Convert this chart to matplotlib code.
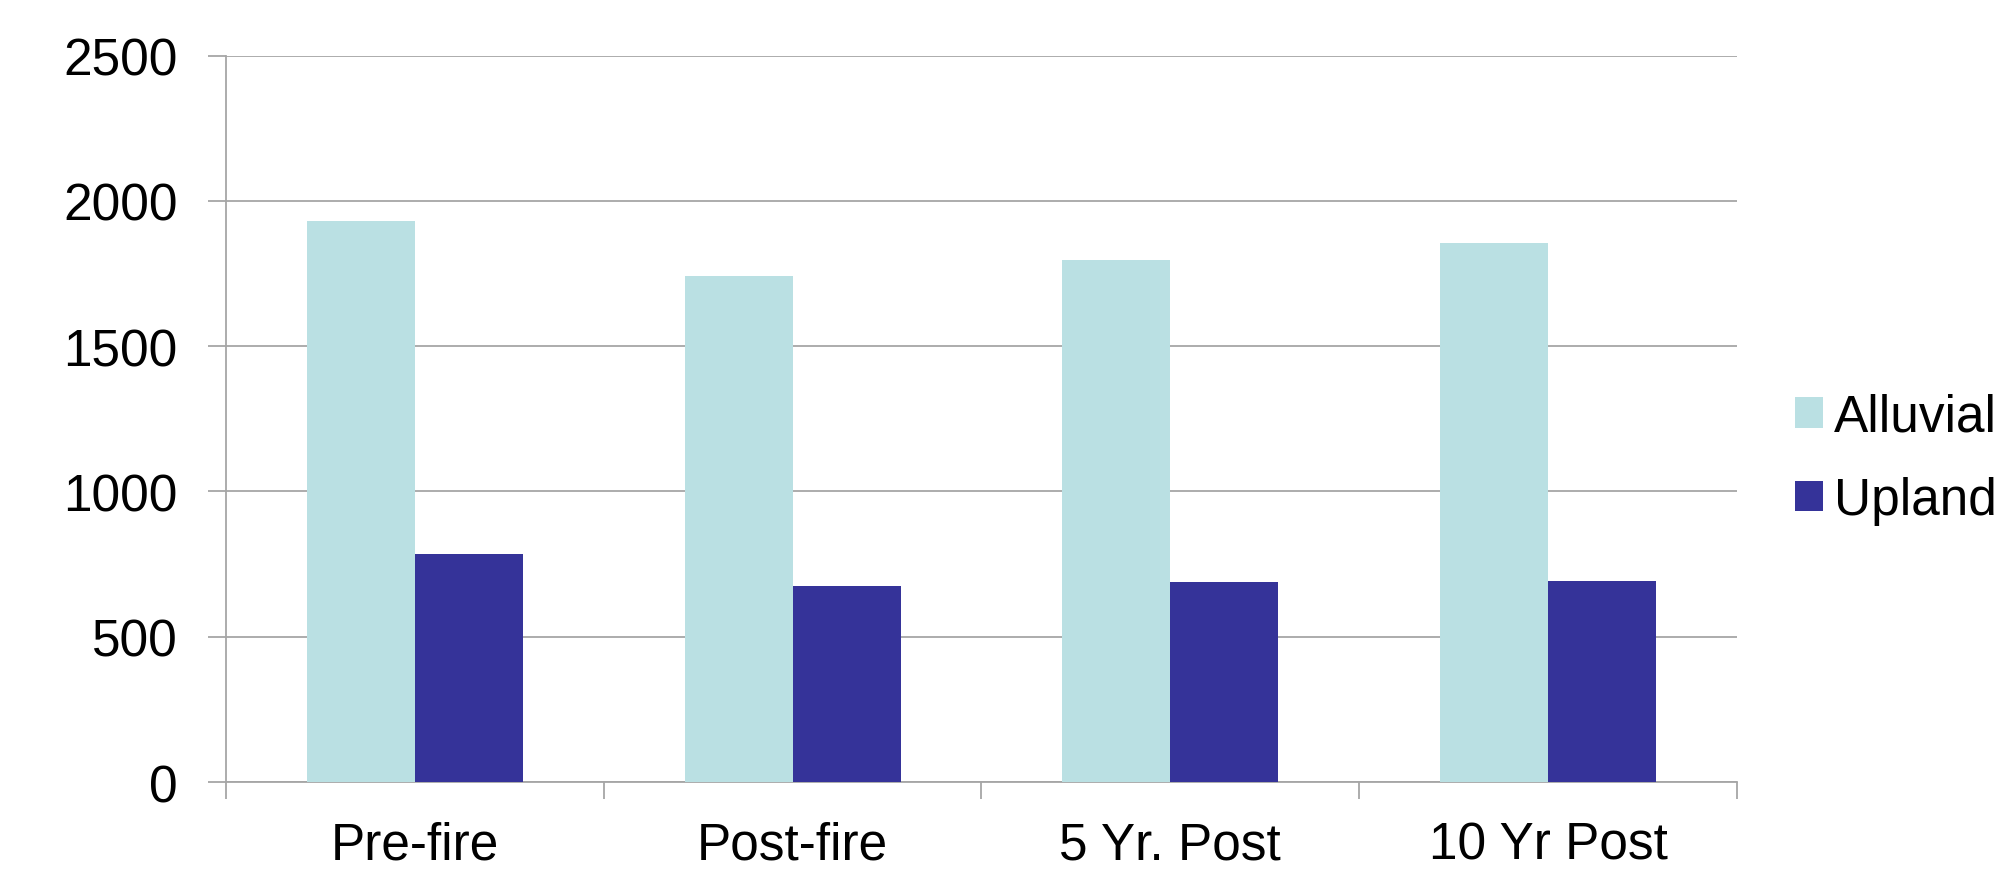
import matplotlib
matplotlib.use("Agg")
import matplotlib.pyplot as plt
import numpy as np

plt.rcParams['font.family'] = ['Liberation Sans', 'DejaVu Sans']

categories = ["Pre-fire", "Post-fire", "5 Yr. Post", "10 Yr Post"]
alluvial = [1930, 1742, 1798, 1856]
upland = [785, 674, 688, 692]
series_names = ["Alluvial", "Upland"]
colors = ["#BAE0E3", "#353399"]
y_ticks = [0, 500, 1000, 1500, 2000, 2500]

fig = plt.figure(figsize=(20.01, 8.79), dpi=100)
ax = fig.add_axes([0.113, 0.1092, 0.755, 0.8265])

x = np.arange(len(categories))
width = 1 / 3.5  # gap width 150%
ax.bar(x - width / 2, alluvial, width, color=colors[0], label=series_names[0], zorder=3)
ax.bar(x + width / 2, upland, width, color=colors[1], label=series_names[1], zorder=3)

ax.set_xlim(-0.5, len(categories) - 0.5)
ax.set_ylim(0, 2500)
ax.set_yticks(y_ticks)
ax.set_yticklabels([str(v) for v in y_ticks])

grid_color = "#A6A6A6"
ax.yaxis.grid(True, color=grid_color, linewidth=1.3, zorder=0)
ax.set_axisbelow(True)

# category boundaries as major ticks, names as minor ticks
ax.set_xticks(np.arange(-0.5, len(categories), 1.0))
ax.set_xticklabels([])
ax.set_xticks(x, minor=True)
ax.set_xticklabels(categories, minor=True)
ax.tick_params(axis='x', which='major', length=12, width=1.3, color=grid_color, direction='out')
ax.tick_params(axis='x', which='minor', length=0, pad=28, labelsize=37)
ax.tick_params(axis='y', length=13, width=1.3, color=grid_color, pad=22, labelsize=37)

for side in ("top", "right"):
    ax.spines[side].set_visible(False)
for side in ("left", "bottom"):
    ax.spines[side].set_color(grid_color)
    ax.spines[side].set_linewidth(1.3)

ax.legend(loc='center left', bbox_to_anchor=(1.025, 0.445), frameon=False,
          fontsize=37, handlelength=0.55, handleheight=0.55, handletextpad=0.2,
          labelspacing=0.68, borderaxespad=0)

fig.savefig("out.png", dpi=100)
